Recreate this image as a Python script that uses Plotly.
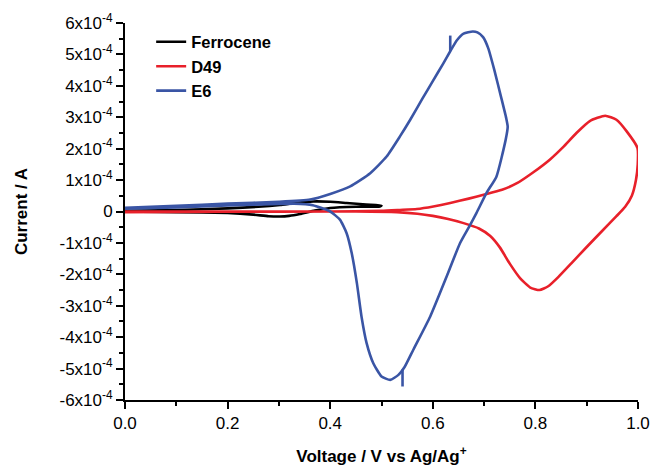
import plotly.graph_objects as go

# ---- data (volts, amperes) ----
fc_x = [0.0, 0.1, 0.2, 0.26, 0.302, 0.335, 0.367, 0.40, 0.432, 0.47, 0.5,
        0.497, 0.45, 0.40, 0.37, 0.341, 0.32, 0.302, 0.28, 0.25, 0.2, 0.1, 0.0]
fc_y = [0.02e-4, 0.05e-4, 0.1e-4, 0.15e-4, 0.21e-4, 0.28e-4, 0.32e-4, 0.31e-4, 0.27e-4, 0.22e-4, 0.19e-4,
        0.16e-4, 0.15e-4, 0.11e-4, 0.03e-4, -0.08e-4, -0.14e-4, -0.16e-4, -0.15e-4, -0.1e-4, -0.05e-4,
        -0.02e-4, 0.0]

d49_x = [0.0, 0.2, 0.4, 0.5, 0.536, 0.569, 0.601, 0.634, 0.67, 0.699, 0.735, 0.764, 0.796, 0.828,
         0.854, 0.880, 0.906, 0.936, 0.958, 0.978, 0.999,
         0.9995, 0.996, 0.988, 0.975, 0.958, 0.93, 0.90, 0.87, 0.845, 0.825, 0.808, 0.79, 0.77,
         0.75, 0.731, 0.712, 0.69, 0.66, 0.63, 0.6, 0.57, 0.53, 0.45, 0.3, 0.15, 0.0]
d49_y = [-0.02e-4, -0.01e-4, 0.0, 0.02e-4, 0.05e-4, 0.08e-4, 0.16e-4, 0.27e-4, 0.41e-4, 0.53e-4,
         0.69e-4, 0.9e-4, 1.25e-4, 1.65e-4, 2.05e-4, 2.5e-4, 2.88e-4, 3.05e-4, 2.92e-4, 2.55e-4, 2.02e-4,
         1.5e-4, 1.0e-4, 0.5e-4, 0.15e-4, -0.15e-4, -0.62e-4, -1.13e-4, -1.65e-4, -2.08e-4, -2.38e-4,
         -2.5e-4, -2.42e-4, -2.12e-4, -1.66e-4, -1.15e-4, -0.78e-4, -0.54e-4, -0.37e-4, -0.24e-4,
         -0.14e-4, -0.07e-4, -0.02e-4, 0.0, 0.0, 0.0, 0.0]

e6_x = [0.0, 0.1, 0.2, 0.3, 0.361, 0.4, 0.439, 0.478, 0.510, 0.536, 0.556, 0.58, 0.60, 0.62,
        0.634, 0.647, 0.66, 0.678, 0.687, 0.698, 0.708, 0.72, 0.733, 0.743,
        0.746, 0.742, 0.724, 0.705, 0.685, 0.671, 0.653, 0.627, 0.595, 0.562, 0.545, 0.533,
        0.517, 0.5, 0.484, 0.471, 0.461, 0.452, 0.442, 0.432, 0.419, 0.4, 0.366, 0.33, 0.3,
        0.2, 0.1, 0.0,
        None, 0.634, 0.634, None, 0.541, 0.541]
e6_y = [0.12e-4, 0.18e-4, 0.25e-4, 0.31e-4, 0.38e-4, 0.56e-4, 0.8e-4, 1.22e-4, 1.75e-4, 2.39e-4,
        2.92e-4, 3.6e-4, 4.15e-4, 4.7e-4, 5.1e-4, 5.45e-4, 5.66e-4, 5.73e-4, 5.7e-4, 5.55e-4,
        5.2e-4, 4.5e-4, 3.65e-4, 2.98e-4,
        2.7e-4, 2.28e-4, 1.11e-4, 0.6e-4, -0.05e-4, -0.48e-4, -1.01e-4, -2.07e-4, -3.34e-4,
        -4.40e-4, -4.95e-4, -5.2e-4, -5.36e-4, -5.25e-4, -4.83e-4, -4.19e-4, -3.34e-4, -2.28e-4,
        -1.33e-4, -0.69e-4, -0.26e-4, 0.0, 0.2e-4, 0.25e-4, 0.24e-4, 0.19e-4, 0.13e-4, 0.09e-4,
        None, 5.1e-4, 5.6e-4, None, -5.03e-4, -5.57e-4]

y_ticks = [-6e-4, -5e-4, -4e-4, -3e-4, -2e-4, -1e-4, 0, 1e-4, 2e-4, 3e-4, 4e-4, 5e-4, 6e-4]
y_ticktext = ["-6x10<sup>-4</sup>", "-5x10<sup>-4</sup>", "-4x10<sup>-4</sup>", "-3x10<sup>-4</sup>",
              "-2x10<sup>-4</sup>", "-1x10<sup>-4</sup>", "0", "1x10<sup>-4</sup>",
              "2x10<sup>-4</sup>", "3x10<sup>-4</sup>", "4x10<sup>-4</sup>", "5x10<sup>-4</sup>",
              "6x10<sup>-4</sup>"]
x_ticks = [0.0, 0.2, 0.4, 0.6, 0.8, 1.0]
x_ticktext = ["0.0", "0.2", "0.4", "0.6", "0.8", "1.0"]

FONT = "Liberation Sans, Arial, sans-serif"

fig = go.Figure()
fig.add_trace(go.Scatter(x=fc_x, y=fc_y, mode="lines", name="Ferrocene",
                         line=dict(color="#000000", width=2.6, shape="spline", smoothing=0.5)))
fig.add_trace(go.Scatter(x=d49_x, y=d49_y, mode="lines", name="D49",
                         line=dict(color="#e8202a", width=2.6, shape="spline", smoothing=0.5)))
fig.add_trace(go.Scatter(x=e6_x, y=e6_y, mode="lines", name="E6", connectgaps=False,
                         line=dict(color="#3a55a5", width=2.6, shape="spline", smoothing=0.5)))

fig.update_layout(
    width=652, height=467,
    margin=dict(l=125, r=14, t=23, b=67),
    paper_bgcolor="white", plot_bgcolor="white",
    font=dict(family=FONT, color="black"),
    legend=dict(x=0.051, y=0.996, xanchor="left", yanchor="top",
                bgcolor="rgba(0,0,0,0)", font=dict(size=16.5, weight="bold"),
                tracegroupgap=0),
    xaxis=dict(range=[0, 1.0], tickvals=x_ticks, ticktext=x_ticktext, automargin=False,
               showline=True, linecolor="black", linewidth=2, mirror=False,
               showgrid=False, zeroline=False,
               ticks="outside", ticklen=7, tickwidth=2, tickcolor="black",
               tickfont=dict(size=17),
               minor=dict(ticks="outside", ticklen=4, tickwidth=2, tickcolor="black",
                          dtick=0.1, tick0=0, showgrid=False),
               title=dict(text="Voltage / V vs Ag/Ag<sup>+</sup>",
                          font=dict(size=17, weight="bold"), standoff=18)),
    yaxis=dict(range=[-6e-4, 6e-4], tickvals=y_ticks, ticktext=y_ticktext, automargin=False,
               showline=True, linecolor="black", linewidth=2, mirror=False,
               showgrid=False, zeroline=False,
               ticks="outside", ticklen=7, tickwidth=2, tickcolor="black",
               tickfont=dict(size=17),
               minor=dict(ticks="outside", ticklen=4, tickwidth=2, tickcolor="black",
                          dtick=0.5e-4, tick0=0, showgrid=False),
               title=dict(text="Current / A", font=dict(size=17, weight="bold"), standoff=28)),
)

fig.write_html("out.html", config={"displayModeBar": False},
               post_script="document.body.style.margin='0';")
